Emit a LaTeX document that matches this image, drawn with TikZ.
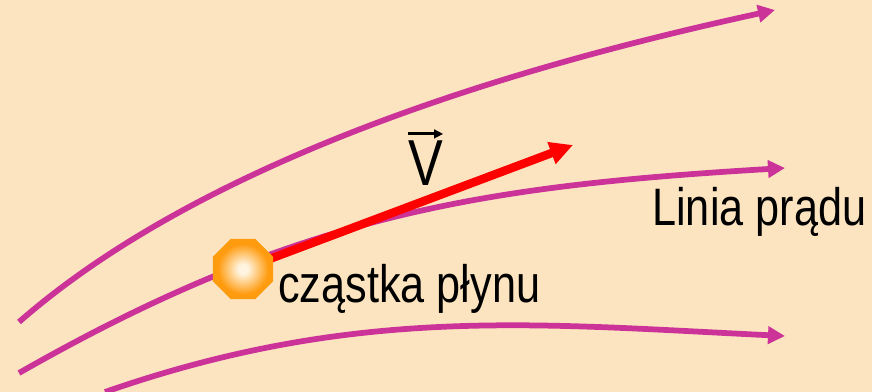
\documentclass[tikz,border=0pt]{standalone}
\usepackage{fontspec}
\setmainfont{Liberation Sans}
\usepackage{graphicx}
\usepackage{tikz}
\usetikzlibrary{arrows.meta,shapes.geometric}
\definecolor{bgpeach}{RGB}{252, 228, 192}
\definecolor{streammag}{RGB}{204, 51, 153}
\definecolor{velred}{RGB}{255, 0, 0}
\definecolor{partorange}{RGB}{255, 155, 15}
\definecolor{partcore}{RGB}{255, 244, 224}
\pgfdeclareradialshading{partglow}{\pgfpoint{0bp}{0bp}}{color(0bp)=(partcore); color(4bp)=(partcore); color(21bp)=(partorange); color(50bp)=(partorange)}
\tikzset{
 streamline/.style={
 line width=0.115cm,
 draw=streammag,
 -{Triangle[length=0.34cm, width=0.34cm]}
 },
 velarrow/.style={
 line width=0.17cm,
 draw=velred,
 -{Triangle[length=0.46cm, width=0.44cm]}
 },
 vecbar/.style={
 line width=0.06cm,
 -{Triangle[length=0.18cm, width=0.17cm]}
 },
 particle/.style={
 regular polygon,
 regular polygon sides=8,
 minimum size=1.3cm,
 inner sep=0pt,
 shade,
 shading=partglow
 },
 bigtext/.style={inner sep=0pt, font=\fontsize{30}{36}\selectfont},
 vectext/.style={inner sep=0pt, font=\fontsize{37}{44}\selectfont}
}

\begin{document}
\begin{tikzpicture}[x=0.02cm, y=-0.02cm]
 \useasboundingbox (0,0) rectangle (872,392);
 \fill[bgpeach] (0,0) rectangle (872,392);

 \draw[streamline] (19,322) .. controls (219,147) and (555,58) .. (775,10);
 \draw[streamline] (19,373) .. controls (299,213) and (485,186) .. (785,168);
 \draw[streamline] (105,392) .. controls (355,305) and (535,324) .. (785,336);

 \coordinate (pc) at (243,269);
 \coordinate (vtip) at (573,145);
 \draw[velarrow] (pc) -- (vtip);
 \node[particle] (part) at (pc) {};

 \node[vectext, anchor=base] (vel) at (425.5,185) {\scalebox{0.8}[1]{V}};
 \draw[vecbar] ([yshift=0.12cm]vel.north west) -- ([yshift=0.12cm]vel.north east);
 \node[bigtext, anchor=base west] (streamlbl) at (652,225) {\scalebox{0.82}[1]{Linia prądu}};
 \node[bigtext, anchor=base west] (partlbl) at (278,302) {\scalebox{0.82}[1]{cząstka płynu}};
\end{tikzpicture}
\end{document}
